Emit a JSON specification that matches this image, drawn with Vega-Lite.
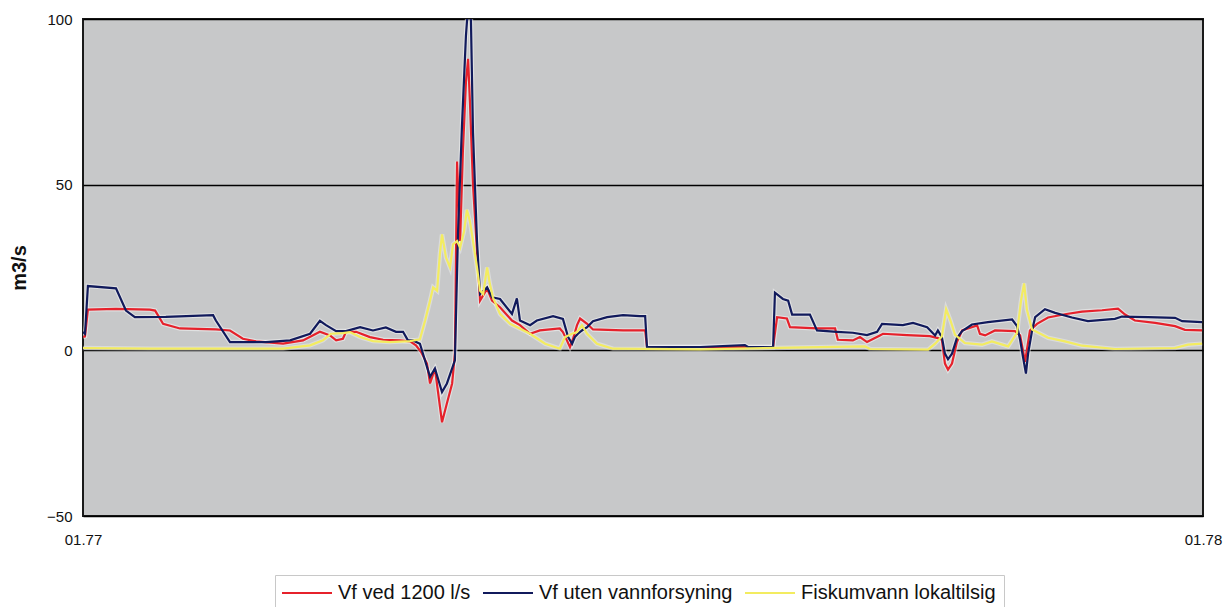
{
  "$schema": "https://vega.github.io/schema/vega-lite/v6.json",
  "width": 1120,
  "height": 497,
  "autosize": {"type": "none"},
  "padding": {"left": 83, "top": 19, "right": 22, "bottom": 91},
  "background": "white",
  "config": {
    "font": "Liberation Sans",
    "view": {"fill": "#c7c8c9", "stroke": "#1a1a1a", "strokeWidth": 2}
  },
  "datasets": {
    "red": [
      {"t": 0, "v": 4.0}, {"t": 0.65, "v": 4.2}, {"t": 1.6, "v": 12.3}, {"t": 10.75, "v": 12.5},
      {"t": 21.8, "v": 12.3}, {"t": 23.5, "v": 12.0}, {"t": 26.1, "v": 8.0}, {"t": 31.6, "v": 6.6},
      {"t": 43.3, "v": 6.3}, {"t": 47.9, "v": 6.0}, {"t": 52.1, "v": 3.5}, {"t": 56.4, "v": 2.7},
      {"t": 65.2, "v": 2.0}, {"t": 71.7, "v": 3.0}, {"t": 77.2, "v": 5.6}, {"t": 80.5, "v": 4.5},
      {"t": 82.5, "v": 3.0}, {"t": 84.7, "v": 3.5}, {"t": 85.7, "v": 5.6}, {"t": 89.0, "v": 5.6},
      {"t": 93.5, "v": 4.0}, {"t": 97.8, "v": 3.2}, {"t": 103.3, "v": 3.0}, {"t": 106.6, "v": 2.7},
      {"t": 108.5, "v": 1.5}, {"t": 110.2, "v": -0.5}, {"t": 112.1, "v": -4}, {"t": 113.1, "v": -10},
      {"t": 114.7, "v": -5.5}, {"t": 117.0, "v": -21.7}, {"t": 118.6, "v": -16}, {"t": 120.3, "v": -10},
      {"t": 121.2, "v": -1}, {"t": 121.9, "v": 57}, {"t": 122.9, "v": 33}, {"t": 123.8, "v": 60},
      {"t": 124.8, "v": 81}, {"t": 125.5, "v": 88}, {"t": 126.1, "v": 75}, {"t": 127.1, "v": 50},
      {"t": 128.4, "v": 30}, {"t": 129.4, "v": 15}, {"t": 131.7, "v": 18.6}, {"t": 133.3, "v": 15},
      {"t": 135.9, "v": 13}, {"t": 139.8, "v": 9}, {"t": 142.4, "v": 7.6}, {"t": 145.7, "v": 5},
      {"t": 148.9, "v": 6}, {"t": 155.4, "v": 6.6}, {"t": 156.4, "v": 5.5}, {"t": 157.7, "v": 3},
      {"t": 158.7, "v": 1}, {"t": 159.7, "v": 3.5}, {"t": 161.0, "v": 7.6}, {"t": 162.0, "v": 9.6},
      {"t": 164.3, "v": 8}, {"t": 166.2, "v": 6.3}, {"t": 176.0, "v": 6}, {"t": 183.2, "v": 6},
      {"t": 183.8, "v": 1}, {"t": 201.1, "v": 1}, {"t": 224.9, "v": 1}, {"t": 226.2, "v": 10},
      {"t": 229.4, "v": 9.6}, {"t": 230.4, "v": 7}, {"t": 239.2, "v": 6.6}, {"t": 245.1, "v": 6.6},
      {"t": 246.0, "v": 3.2}, {"t": 250.9, "v": 3}, {"t": 253.2, "v": 4}, {"t": 255.5, "v": 2.5},
      {"t": 259.7, "v": 4.5}, {"t": 260.7, "v": 5}, {"t": 268.5, "v": 4.6}, {"t": 276.0, "v": 4.3},
      {"t": 278.6, "v": 3.7}, {"t": 279.9, "v": 3.2}, {"t": 280.9, "v": -4}, {"t": 281.9, "v": -5.8},
      {"t": 283.2, "v": -4}, {"t": 284.8, "v": 2.5}, {"t": 286.5, "v": 6}, {"t": 288.4, "v": 6.6},
      {"t": 291.4, "v": 7.5}, {"t": 292.3, "v": 5}, {"t": 294.0, "v": 4.5}, {"t": 297.2, "v": 6},
      {"t": 303.7, "v": 5.8}, {"t": 305.4, "v": 4.5}, {"t": 306.3, "v": 0.1}, {"t": 307.0, "v": -3.5},
      {"t": 308.6, "v": 6}, {"t": 310.9, "v": 8}, {"t": 314.5, "v": 9.9}, {"t": 320.0, "v": 10.9},
      {"t": 325.6, "v": 11.7}, {"t": 332.1, "v": 12.1}, {"t": 337.3, "v": 12.6}, {"t": 339.6, "v": 10.8},
      {"t": 342.8, "v": 9}, {"t": 349.4, "v": 8.3}, {"t": 355.9, "v": 7.3}, {"t": 359.1, "v": 6.2},
      {"t": 364.7, "v": 6}
    ],
    "blue": [
      {"t": 0, "v": 5.5}, {"t": 0.65, "v": 5}, {"t": 1.6, "v": 19.4}, {"t": 10.75, "v": 18.7},
      {"t": 14.0, "v": 12}, {"t": 16.9, "v": 10}, {"t": 27.0, "v": 10.1}, {"t": 42.4, "v": 10.6},
      {"t": 43.3, "v": 9}, {"t": 47.9, "v": 2.5}, {"t": 59.6, "v": 2.5}, {"t": 67.5, "v": 3},
      {"t": 74.0, "v": 5}, {"t": 77.2, "v": 8.9}, {"t": 79.2, "v": 7.6}, {"t": 82.5, "v": 5.8},
      {"t": 85.7, "v": 5.8}, {"t": 90.3, "v": 7}, {"t": 94.5, "v": 6}, {"t": 98.7, "v": 6.9},
      {"t": 102.0, "v": 5.6}, {"t": 104.3, "v": 5.6}, {"t": 105.9, "v": 3}, {"t": 107.5, "v": 3},
      {"t": 109.8, "v": 2}, {"t": 112.1, "v": -5}, {"t": 113.1, "v": -8}, {"t": 114.7, "v": -5.5},
      {"t": 117.0, "v": -12.6}, {"t": 118.6, "v": -10}, {"t": 121.2, "v": -3}, {"t": 122.2, "v": 35},
      {"t": 123.5, "v": 67.6}, {"t": 124.8, "v": 95}, {"t": 125.5, "v": 104}, {"t": 126.4, "v": 101},
      {"t": 127.1, "v": 65.7}, {"t": 128.4, "v": 33}, {"t": 129.4, "v": 17}, {"t": 131.7, "v": 19},
      {"t": 133.3, "v": 16}, {"t": 135.9, "v": 15.5}, {"t": 139.8, "v": 11}, {"t": 141.4, "v": 15.7},
      {"t": 142.4, "v": 9}, {"t": 145.7, "v": 7.6}, {"t": 147.9, "v": 9}, {"t": 153.2, "v": 10.3},
      {"t": 156.4, "v": 9.5}, {"t": 158.1, "v": 4}, {"t": 159.4, "v": 2}, {"t": 160.3, "v": 4},
      {"t": 161.3, "v": 5}, {"t": 162.6, "v": 6}, {"t": 164.3, "v": 7}, {"t": 166.2, "v": 8.8},
      {"t": 170.8, "v": 10}, {"t": 176.0, "v": 10.6}, {"t": 181.5, "v": 10.3}, {"t": 183.2, "v": 10.3},
      {"t": 183.8, "v": 1}, {"t": 201.1, "v": 1}, {"t": 215.7, "v": 1.6}, {"t": 216.7, "v": 1},
      {"t": 224.9, "v": 1}, {"t": 225.5, "v": 17.4}, {"t": 228.1, "v": 15.5}, {"t": 229.8, "v": 15},
      {"t": 231.1, "v": 10.8}, {"t": 236.9, "v": 10.8}, {"t": 239.2, "v": 6}, {"t": 245.7, "v": 5.6},
      {"t": 250.9, "v": 5.3}, {"t": 255.5, "v": 4.6}, {"t": 258.8, "v": 5.6}, {"t": 260.4, "v": 8},
      {"t": 267.2, "v": 7.6}, {"t": 270.5, "v": 8.3}, {"t": 275.1, "v": 7}, {"t": 277.7, "v": 4.5},
      {"t": 278.6, "v": 6}, {"t": 279.9, "v": 4}, {"t": 280.9, "v": -1}, {"t": 281.9, "v": -2.7},
      {"t": 283.2, "v": -1}, {"t": 284.8, "v": 3.7}, {"t": 286.5, "v": 5.8}, {"t": 289.7, "v": 7.8},
      {"t": 294.9, "v": 8.5}, {"t": 302.8, "v": 9.3}, {"t": 304.4, "v": 7.3}, {"t": 305.4, "v": 3.2},
      {"t": 306.3, "v": -1.8}, {"t": 307.3, "v": -7}, {"t": 308.0, "v": -1}, {"t": 309.3, "v": 6},
      {"t": 310.3, "v": 10}, {"t": 313.5, "v": 12.4}, {"t": 316.8, "v": 11.3}, {"t": 322.3, "v": 9.9},
      {"t": 327.5, "v": 8.8}, {"t": 336.3, "v": 9.5}, {"t": 338.6, "v": 10.2}, {"t": 347.1, "v": 10},
      {"t": 355.9, "v": 9.8}, {"t": 358.2, "v": 8.8}, {"t": 364.7, "v": 8.5}
    ],
    "yellow": [
      {"t": 0, "v": 0.7}, {"t": 21.8, "v": 0.5}, {"t": 65.2, "v": 0.5}, {"t": 74.0, "v": 1.5},
      {"t": 78.2, "v": 3}, {"t": 80.8, "v": 5}, {"t": 84.7, "v": 5.2}, {"t": 87.0, "v": 5.5},
      {"t": 90.3, "v": 4}, {"t": 94.5, "v": 2.8}, {"t": 100.0, "v": 2.5}, {"t": 106.6, "v": 2.8},
      {"t": 109.8, "v": 3.3}, {"t": 111.5, "v": 9}, {"t": 113.1, "v": 15}, {"t": 114.1, "v": 19},
      {"t": 115.4, "v": 18}, {"t": 116.3, "v": 29}, {"t": 117.0, "v": 35}, {"t": 118.3, "v": 28},
      {"t": 119.6, "v": 25}, {"t": 120.6, "v": 32}, {"t": 121.9, "v": 33}, {"t": 122.9, "v": 31},
      {"t": 124.2, "v": 36}, {"t": 125.1, "v": 42.4}, {"t": 126.1, "v": 39}, {"t": 127.1, "v": 33},
      {"t": 128.4, "v": 25}, {"t": 129.4, "v": 18}, {"t": 130.4, "v": 17}, {"t": 131.7, "v": 25},
      {"t": 132.6, "v": 20}, {"t": 133.6, "v": 16}, {"t": 135.9, "v": 11}, {"t": 139.2, "v": 8},
      {"t": 145.7, "v": 5}, {"t": 150.6, "v": 2}, {"t": 155.4, "v": 0.5}, {"t": 157.1, "v": 4},
      {"t": 159.4, "v": 5}, {"t": 161.0, "v": 5.5}, {"t": 162.6, "v": 7.6}, {"t": 164.3, "v": 5},
      {"t": 167.5, "v": 2}, {"t": 172.7, "v": 0.5}, {"t": 201.1, "v": 0.3}, {"t": 254.8, "v": 1.2},
      {"t": 256.5, "v": 0.4}, {"t": 275.4, "v": 0.2}, {"t": 277.7, "v": 2}, {"t": 279.9, "v": 4.2},
      {"t": 281.3, "v": 12.4}, {"t": 282.6, "v": 9.3}, {"t": 284.2, "v": 4.7}, {"t": 287.4, "v": 2.2},
      {"t": 293.0, "v": 1.7}, {"t": 296.2, "v": 2.7}, {"t": 301.5, "v": 1.2}, {"t": 304.4, "v": 5.3},
      {"t": 305.7, "v": 15}, {"t": 306.7, "v": 20.2}, {"t": 307.6, "v": 12.3}, {"t": 309.3, "v": 6.3},
      {"t": 314.5, "v": 3.8}, {"t": 320.0, "v": 2.7}, {"t": 325.6, "v": 1.4}, {"t": 336.3, "v": 0.4},
      {"t": 355.9, "v": 0.7}, {"t": 360.1, "v": 1.7}, {"t": 364.7, "v": 2}
    ]
  },
  "encoding": {
    "x": {
      "field": "t",
      "type": "quantitative",
      "scale": {"domain": [0, 365], "nice": false, "zero": false},
      "axis": {
        "title": null,
        "values": [0, 365],
        "labelExpr": "datum.value == 0 ? '01.77' : '01.78'",
        "grid": false,
        "ticks": false,
        "domain": false,
        "labelFontSize": 15,
        "labelColor": "#111",
        "labelPadding": 16,
        "labelFlush": false,
        "labelBound": false,
        "labelOverlap": false
      }
    },
    "y": {
      "field": "v",
      "type": "quantitative",
      "scale": {"domain": [-50, 100], "nice": false, "zero": false},
      "axis": {
        "title": "m3/s",
        "titleFontSize": 20,
        "titleFontWeight": "bold",
        "titleColor": "#111",
        "titlePadding": 17,
        "values": [-50, 0, 50, 100],
        "grid": true,
        "gridColor": "#000",
        "gridWidth": 1.5,
        "ticks": false,
        "domain": false,
        "labelFontSize": 15,
        "labelColor": "#111",
        "labelPadding": 11,
        "labelFlush": false,
        "labelBound": false
      }
    }
  },
  "layer": [
    {"data": {"name": "red"}, "mark": {"type": "line", "clip": true, "strokeWidth": 4.5, "color": "white", "opacity": 0.45}, "encoding": {}},
    {"data": {"name": "blue"}, "mark": {"type": "line", "clip": true, "strokeWidth": 4.5, "color": "white", "opacity": 0.45}, "encoding": {}},
    {"data": {"name": "yellow"}, "mark": {"type": "line", "clip": true, "strokeWidth": 4.5, "color": "white", "opacity": 0.35}, "encoding": {}},
    {
      "data": {"name": "red"},
      "mark": {"type": "line", "clip": true, "strokeWidth": 2.2},
      "encoding": {
        "color": {
          "datum": "Vf ved 1200 l/s",
          "type": "nominal",
          "scale": {
            "domain": ["Vf ved 1200 l/s", "Vf uten vannforsyning", "Fiskumvann lokaltilsig"],
            "range": ["#e6212b", "#111a5c", "#f3ec60"]
          },
          "legend": {
            "orient": "none",
            "legendX": 192,
            "legendY": 556,
            "direction": "horizontal",
            "title": null,
            "symbolType": "M-2.75,0H9.75",
            "symbolSize": 64,
            "symbolStrokeWidth": 2,
            "labelFontSize": 20,
            "labelColor": "#111",
            "labelLimit": 400,
            "labelOffset": 35,
            "columnPadding": 8,
            "padding": 8,
            "strokeColor": "#c8c8c8",
            "fillColor": "white"
          }
        }
      }
    },
    {
      "data": {"name": "blue"},
      "mark": {"type": "line", "clip": true, "strokeWidth": 2.2},
      "encoding": {"color": {"datum": "Vf uten vannforsyning", "type": "nominal"}}
    },
    {
      "data": {"name": "yellow"},
      "mark": {"type": "line", "clip": true, "strokeWidth": 2.2},
      "encoding": {"color": {"datum": "Fiskumvann lokaltilsig", "type": "nominal"}}
    }
  ]
}
